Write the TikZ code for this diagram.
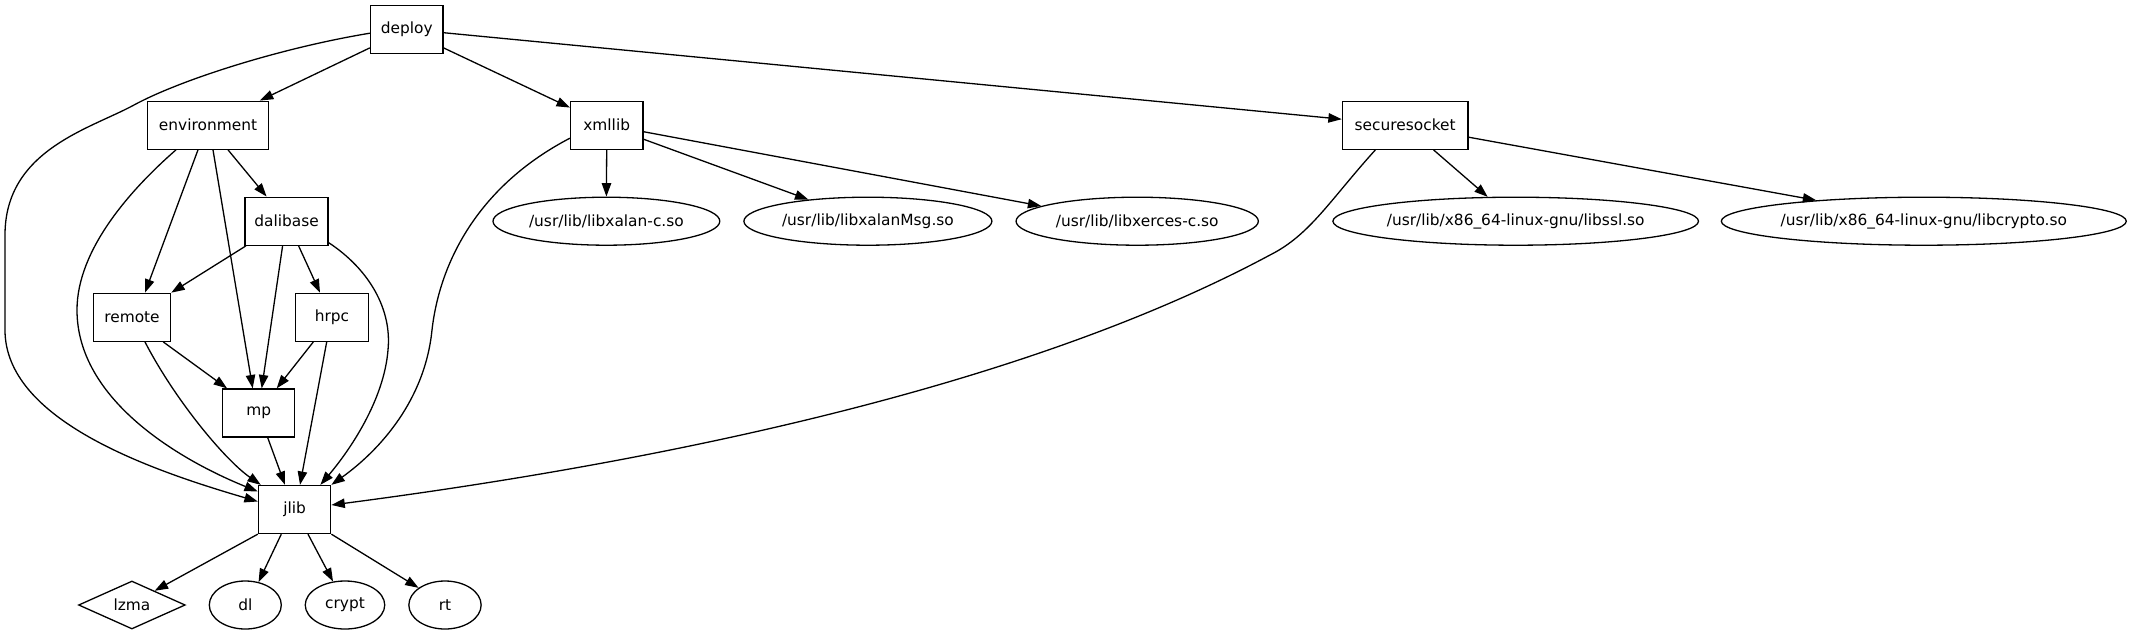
\documentclass[tikz,border=0pt]{standalone}
\usepackage{fontspec}
\setmainfont{DejaVu Sans}
\usetikzlibrary{arrows.meta,shapes.geometric,calc}
\begin{document}
\begin{tikzpicture}[x=1pt,y=-1pt,
  every node/.style={font=\fontsize{15.4}{18}\selectfont, inner sep=0pt, line width=1.3pt},
  box/.style={draw, rectangle, minimum height=48pt},
  ell/.style={draw, ellipse, minimum height=48pt},
  dia/.style={draw, diamond, aspect=2.2, minimum height=48pt, minimum width=106.7pt},
  conn/.style={line width=1.3pt, -{Triangle[length=13.4pt,width=9.4pt]}}]
\path[use as bounding box, fill=white] (0,0) rectangle (2131,635);

% nodes
\node[box, minimum width=72.3pt] (deploy) at (406.7,29.2) {deploy};
\node[box, minimum width=120.5pt] (environment) at (208,125.2) {environment};
\node[box, minimum width=72.3pt] (xmllib) at (606.7,125.2) {xmllib};
\node[box, minimum width=125.6pt] (securesocket) at (1405.2,125.2) {securesocket};
\node[box, minimum width=83pt] (dalibase) at (286.6,221.2) {dalibase};
\node[ell, minimum width=226.8pt] (xalan) at (606.4,221.2) {/usr/lib/libxalan-c.so};
\node[ell, minimum width=248pt] (xalanmsg) at (867.9,221.2) {/usr/lib/libxalanMsg.so};
\node[ell, minimum width=242.3pt] (xerces) at (1137.2,221.2) {/usr/lib/libxerces-c.so};
\node[ell, minimum width=365.6pt] (ssl) at (1515.7,221.2) {/usr/lib/x86\_64-linux-gnu/libssl.so};
\node[ell, minimum width=402.7pt] (cryptolib) at (1923.8,221.2) {/usr/lib/x86\_64-linux-gnu/libcrypto.so};
\node[box, minimum width=77.3pt] (remote) at (132,317.3) {remote};
\node[box, minimum width=72.7pt] (hrpc) at (332,317.3) {hrpc};
\node[box, minimum width=72pt] (mp) at (258.7,413) {mp};
\node[box, minimum width=72.3pt] (jlib) at (294.6,509.5) {jlib};
\node[dia] (lzma) at (131.9,605) {lzma};
\node[ell, minimum width=72pt] (dl) at (245.3,605) {dl};
\node[ell, minimum width=79.5pt] (crypt) at (345,605) {crypt};
\node[ell, minimum width=72.3pt] (rt) at (445,605) {rt};

% deploy
\draw[conn] ($(deploy.south west)+(0,-6)$) -- ($(environment.north east)+(-9,0)$);
\draw[conn] ($(deploy.south east)+(0,-6)$) -- ($(xmllib.north west)+(0,7)$);
\draw[conn] ($(deploy.east)+(0,3.5)$) -- ($(securesocket.west)+(0,-6)$);
\draw[conn] ($(deploy.west)+(0,4)$) .. controls (280,48) and (180,80) .. (134,105)
  .. controls (90,129) and (5,150) .. (5,235) -- (5,330)
  .. controls (5,420) and (150,470) .. ($(jlib.west)+(0,-8)$);

% environment
\draw[conn] ($(environment.south)+(-32,0)$) .. controls (130,190) and (77,250) .. (77,310)
  .. controls (77,400) and (180,460) .. ($(jlib.west)+(0,-18)$);
\draw[conn] ($(environment.south)+(-10,0)$) -- ($(remote.north)+(13,0)$);
\draw[conn] ($(environment.south)+(5,0)$) -- ($(mp.north)+(-6,0)$);
\draw[conn] ($(environment.south)+(20,0)$) -- ($(dalibase.north)+(-20,0)$);

% dalibase
\draw[conn] ($(dalibase.south west)+(1.5,0)$) -- (remote.north east);
\draw[conn] ($(dalibase.south)+(-4,0)$) -- ($(mp.north)+(3,0)$);
\draw[conn] ($(dalibase.south)+(12,0)$) -- ($(hrpc.north)+(-12,0)$);
\draw[conn] ($(dalibase.east)+(0,21.5)$) .. controls (370,270) and (392,310) .. (388,350)
  .. controls (384,400) and (350,450) .. ($(jlib.north east)+(-11,0)$);

% remote, hrpc, mp
\draw[conn] ($(remote.south)+(31.3,0)$) -- ($(mp.north west)+(5,0)$);
\draw[conn] ($(remote.south)+(13,0)$) .. controls (175,400) and (225,460) .. ($(jlib.north west)+(3,0)$);
\draw[conn] ($(hrpc.south)+(-18.7,0)$) -- ($(mp.north)+(18,0)$);
\draw[conn] ($(hrpc.south)+(-5.3,0)$) -- ($(jlib.north)+(5.4,0)$);
\draw[conn] ($(mp.south)+(9,0)$) -- ($(jlib.north)+(-9.6,0)$);

% xmllib
\draw[conn] (xmllib.south) -- (xalan.north);
\draw[conn] ($(xmllib.east)+(0,14)$) -- (xalanmsg.160);
\draw[conn] ($(xmllib.east)+(0,6.5)$) -- (xerces.171);
\draw[conn] ($(xmllib.west)+(0,13)$) .. controls (480,185) and (440,260) .. (432,330)
  .. controls (425,400) and (380,450) .. (jlib.north east);

% securesocket
\draw[conn] ($(securesocket.south)+(28.3,0)$) -- (ssl.139);
\draw[conn] ($(securesocket.east)+(0,12)$) -- (cryptolib.169);
\draw[conn] ($(securesocket.south)+(-29.8,0)$) .. controls (1330,200) and (1310,235) .. (1270,255)
  .. controls (1000,400) and (600,470) .. ($(jlib.east)+(0,-4.5)$);

% jlib
\draw[conn] (jlib.south west) -- (lzma.32);
\draw[conn] ($(jlib.south)+(-13.3,0)$) -- (dl.60);
\draw[conn] ($(jlib.south)+(13.4,0)$) -- (crypt.117);
\draw[conn] (jlib.south east) -- (rt.147);
\end{tikzpicture}
\end{document}
